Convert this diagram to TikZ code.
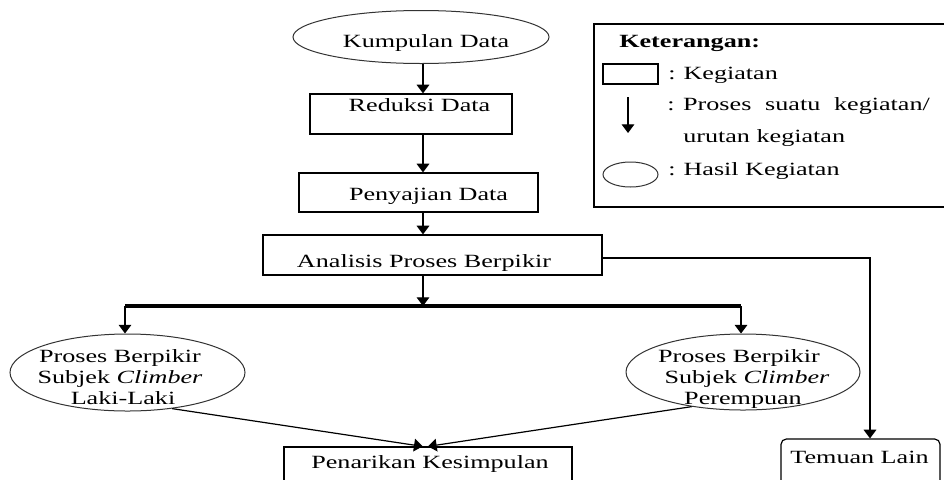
\documentclass[tikz,border=0pt]{standalone}
\usepackage{fontspec}
\setmainfont{Liberation Serif}[FakeStretch=1.4]
\usetikzlibrary{arrows.meta,shapes.geometric}
\begin{document}
\begin{tikzpicture}[x=0.75pt,y=-0.75pt,
  every node/.style={font=\fontsize{14}{16}\selectfont, inner sep=0pt},
  box/.style={draw=black, line width=0.9pt, rectangle},
  oval/.style={draw=black!80, line width=0.75pt, ellipse},
  lbl/.style={anchor=base},
  lbw/.style={anchor=base west},
  arr/.style={draw=black, line width=0.9pt, -{Triangle[width=9.5pt,length=6.5pt]}},
  busline/.style={draw=black, line width=2.3pt}]
\clip (0,0) rectangle (944,479);
\fill[white] (0,0) rectangle (944,479);

% main flow shapes
\node[oval, minimum width=192pt, minimum height=39.75pt] (kd) at (421,37) {};
\node[box, minimum width=151.5pt, minimum height=30pt] (rd) at (411,114) {};
\node[box, minimum width=179.25pt, minimum height=29.25pt] (pj) at (418.5,192.5) {};
\node[box, minimum width=254.25pt, minimum height=30pt] (an) at (432.5,255) {};
\node[oval, minimum width=176.25pt, minimum height=57.75pt] (lk) at (127.5,372.5) {};
\node[oval, minimum width=175.5pt, minimum height=57pt] (pr) at (743,372) {};
\node[box, minimum width=216pt, minimum height=39.75pt] (pk) at (428,473.5) {};
\node[box, rounded corners=4pt, minimum width=119.25pt, minimum height=45.75pt] (tl) at (860.5,469.5) {};

% labels
\node[lbl] (kdt) at (426,47) {Kumpulan Data};
\node[lbl] (rdt) at (419.5,111) {Reduksi Data};
\node[lbl] (pjt) at (428.5,200) {Penyajian Data};
\node[lbl] (ant) at (424,267) {Analisis Proses Berpikir};
\node[lbl] (lk1) at (120,362) {Proses Berpikir};
\node[lbl] (lk2) at (120,383) {Subjek \textit{Climber}};
\node[lbl] (lk3) at (123,404) {Laki-Laki};
\node[lbl] (pr1) at (739,362) {Proses Berpikir};
\node[lbl] (pr2) at (747,383) {Subjek \textit{Climber}};
\node[lbl] (pr3) at (743,404) {Perempuan};
\node[lbl] (pkt) at (430,468) {Penarikan Kesimpulan};
\node[lbl] (tlt) at (859.5,463) {Temuan Lain};

% connectors
\coordinate (spine) at (423,0);
\coordinate (bus) at (423,306);
\coordinate (busL) at (125,306);
\coordinate (busR) at (741,306);
\coordinate (drop) at (870,258);

\draw[arr] (kd.south -| spine) -- (rd.north -| spine);
\draw[arr] (rd.south -| spine) -- (pj.north -| spine);
\draw[arr] (pj.south -| spine) -- (an.north -| spine);
\draw[arr] (an.south -| spine) -- (bus);
\draw[busline] (busL) -- (busR);
\draw[arr] (busL) -- (busL |- lk.north);
\draw[arr] (busR) -- (busR |- pr.north);
\draw[arr] (an.east |- drop) -| (tl.north -| drop);
\draw[arr] (lk.-39) -- ([xshift=-4pt]pk.north);
\draw[arr] (pr.-146) -- ([xshift=0pt]pk.north);

% legend
\node[draw=black, line width=0.9pt, minimum width=267pt, minimum height=137.25pt] (lg) at (772,115.5) {};
\node[lbw] (lgh) at (619,47) {\textbf{Keterangan:}};
\node[box, minimum width=41.25pt, minimum height=15pt] (lgbox) at (630.5,74) {};
\node[lbw] (lgt1) at (668,79) {:\hspace{6pt}Kegiatan};
\coordinate (la1) at (628,97);
\coordinate (la2) at (628,133);
\draw[arr] (la1) -- (la2);
\node[lbw] (lgt2) at (667,110) {:\hspace{6.5pt}\makebox[185pt][s]{Proses suatu kegiatan/}};
\node[lbw] (lgt3) at (683,142) {urutan kegiatan};
\node[oval, minimum width=41.25pt, minimum height=18.75pt] (lgoval) at (630.5,174.5) {};
\node[lbw] (lgt4) at (668,175) {:\hspace{6pt}Hasil Kegiatan};
\end{tikzpicture}
\end{document}
